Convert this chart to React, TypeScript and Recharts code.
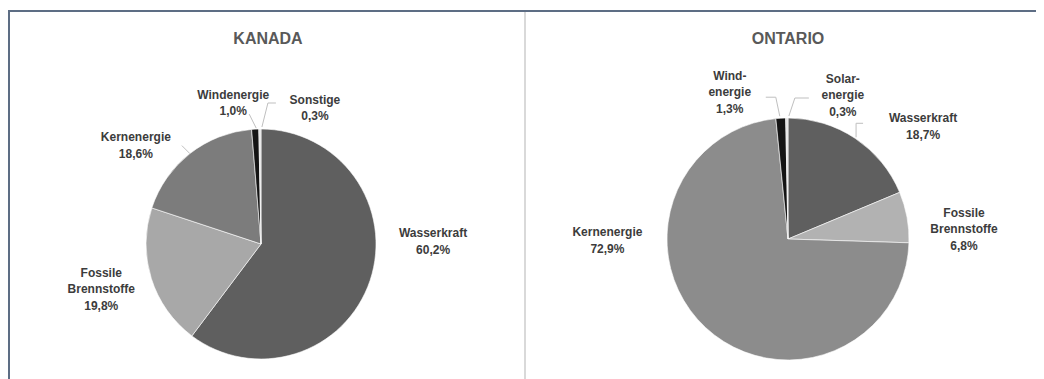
import { PieChart, Pie, Cell } from 'recharts'

// Stromerzeugung nach Quelle (Anteile in %)
const kanadaNames = ['Wasserkraft', 'Fossile Brennstoffe', 'Kernenergie', 'Windenergie', 'Sonstige']
const kanadaValues = [60.2, 19.8, 18.6, 1.0, 0.3]
const kanadaLabelLines = [['Wasserkraft'], ['Fossile', 'Brennstoffe'], ['Kernenergie'], ['Windenergie'], ['Sonstige']]

const ontarioNames = ['Wasserkraft', 'Fossile Brennstoffe', 'Kernenergie', 'Windenergie', 'Solarenergie']
const ontarioValues = [18.7, 6.8, 72.9, 1.3, 0.3]
const ontarioLabelLines = [['Wasserkraft'], ['Fossile', 'Brennstoffe'], ['Kernenergie'], ['Wind-', 'energie'], ['Solar-', 'energie']]

const kanadaColors = ['#5f5f5f', '#a8a8a8', '#7c7c7c', '#141414', '#dedede']
const ontarioColors = ['#5f5f5f', '#b2b2b2', '#8c8c8c', '#141414', '#dedede']

// label placement relative to the slice's outer edge point (layout only)
type LabelPos = { dx: number; dy: number; leader?: number[][] }
const kanadaLabelPos: LabelPos[] = [
  { dx: 63, dy: -39 },
  { dx: -50, dy: 11 },
  { dx: -54, dy: -8, leader: [[0, 0], [-8, -8]] },
  { dx: -22, dy: -26, leader: [[1, -1], [-6, -15]] },
  { dx: 55, dy: -21, leader: [[2, -2], [8, -26], [16, -26]] },
]
const ontarioLabelPos: LabelPos[] = [
  { dx: 68, dy: -12, leader: [[1, -1], [1, -15], [8, -15]] },
  { dx: 57, dy: 12 },
  { dx: -98, dy: -87 },
  { dx: -51, dy: -26, leader: [[-1, -2], [-5, -21], [-15, -21]] },
  { dx: 56, dy: -23, leader: [[2, -2], [8, -20], [22, -20]] },
]

const RADIAN = Math.PI / 180
const fmt = (v: number) => v.toFixed(1).replace('.', ',') + '%'

function makeLabel(lines: string[][], pos: LabelPos[], values: number[]) {
  return (props: any) => {
    const { cx, cy, midAngle, outerRadius, index } = props
    const ex = cx + outerRadius * Math.cos(-midAngle * RADIAN)
    const ey = cy + outerRadius * Math.sin(-midAngle * RADIAN)
    const p = pos[index]
    const rows = [...lines[index], fmt(values[index])]
    const lh = 16.5
    const x = ex + p.dx
    const y0 = ey + p.dy - ((rows.length - 1) * lh) / 2
    return (
      <g key={'lbl' + index}>
        {p.leader && (
          <polyline
            points={p.leader.map(([a, b]) => `${ex + a},${ey + b}`).join(' ')}
            fill="none"
            stroke="#bfbfbf"
            strokeWidth={1}
          />
        )}
        <text
          x={x}
          y={y0}
          textAnchor="middle"
          dominantBaseline="central"
          fontSize={12}
          fontWeight="bold"
          fill="#3c3c3c"
          fontFamily="'Liberation Sans', Arial, sans-serif"
        >
          {rows.map((r, i) => (
            <tspan key={i} x={x} y={y0 + i * lh}>
              {r}
            </tspan>
          ))}
        </text>
      </g>
    )
  }
}

function EnergyPie(props: {
  title: string
  names: string[]
  values: number[]
  lines: string[][]
  pos: LabelPos[]
  colors: string[]
  width: number
  cx: number
  cy: number
  radius: number
  titleX: number
}) {
  const data = props.names.map((n, i) => ({ name: n, value: props.values[i] }))
  return (
    <div style={{ position: 'relative', width: props.width, height: 367 }}>
      <div
        style={{
          position: 'absolute',
          left: props.titleX - 100,
          width: 200,
          top: 18,
          textAlign: 'center',
          fontFamily: "'Liberation Sans', Arial, sans-serif",
          fontWeight: 'bold',
          fontSize: 16,
          color: '#595959',
        }}
      >
        {props.title}
      </div>
      <PieChart width={props.width} height={367}>
        <Pie
          data={data}
          dataKey="value"
          nameKey="name"
          cx={props.cx}
          cy={props.cy}
          outerRadius={props.radius}
          startAngle={90}
          endAngle={-270}
          stroke="#ffffff"
          strokeWidth={0.6}
          label={makeLabel(props.lines, props.pos, props.values)}
          labelLine={false}
          isAnimationActive={false}
        >
          {data.map((d, i) => (
            <Cell key={d.name} fill={props.colors[i]} />
          ))}
        </Pie>
      </PieChart>
    </div>
  )
}

export default function App() {
  return (
    <div style={{ position: 'relative', width: 1036, height: 371, background: '#fff' }}>
      <div
        style={{
          position: 'absolute',
          left: 0,
          top: 2,
          width: 1034,
          height: 367,
          borderTop: '2px solid #5d6d84',
          borderLeft: '2px solid #5d6d84',
        }}
      />
      <div style={{ position: 'absolute', left: 516, top: 4, width: 2, height: 367, background: '#d9d9d9' }} />
      <div style={{ position: 'absolute', left: 2, top: 4, display: 'flex' }}>
        <EnergyPie
          title="KANADA"
          names={kanadaNames}
          values={kanadaValues}
          lines={kanadaLabelLines}
          pos={kanadaLabelPos}
          colors={kanadaColors}
          width={515}
          cx={246}
          cy={227}
          radius={115}
          titleX={258}
        />
        <EnergyPie
          title="ONTARIO"
          names={ontarioNames}
          values={ontarioValues}
          lines={ontarioLabelLines}
          pos={ontarioLabelPos}
          colors={ontarioColors}
          width={517}
          cx={258}
          cy={222}
          radius={121}
          titleX={263}
        />
      </div>
    </div>
  )
}
